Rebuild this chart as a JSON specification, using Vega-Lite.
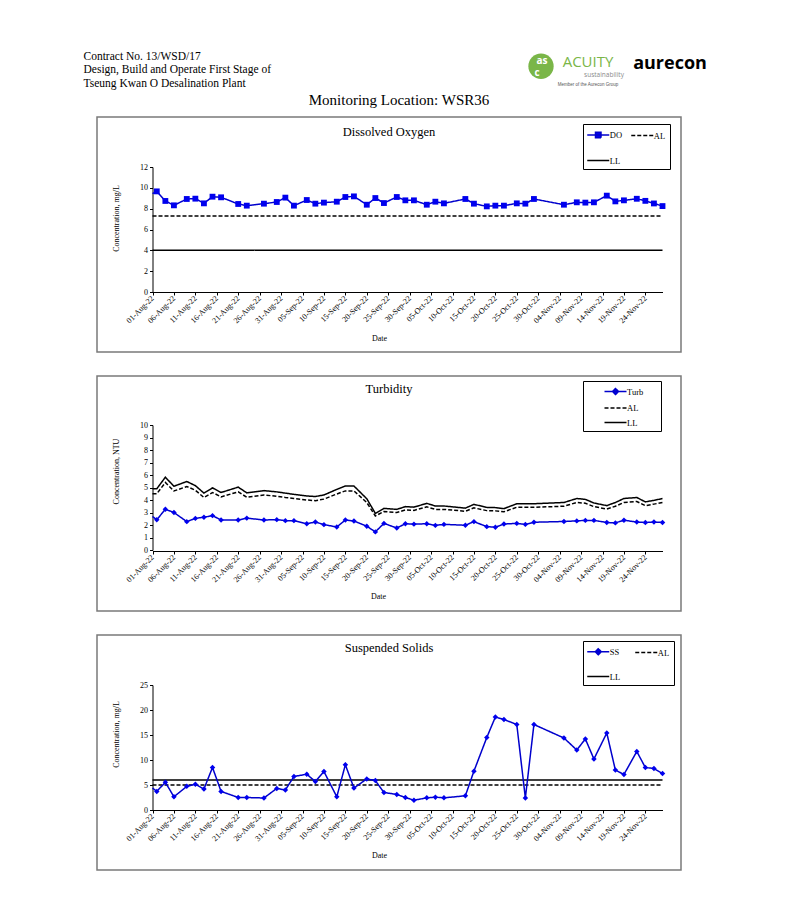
{
  "$schema": "https://vega.github.io/schema/vega-lite/v6.json",
  "background": "white",
  "padding": {"left": 83, "top": 50, "right": 0, "bottom": 0},
  "config": {
    "font": "Liberation Serif",
    "view": {"stroke": null},
    "axis": {"grid": false, "domainColor": "#000", "tickColor": "#000", "labelColor": "#000", "titleColor": "#000", "labelFont": "Liberation Serif", "titleFont": "Liberation Serif", "labelFontSize": 8, "titleFontSize": 8, "titleFontWeight": "normal", "tickSize": 3, "labelFlush": false, "labelOverlap": false, "domainWidth": 1},
    "legend": {"labelFont": "Liberation Serif", "labelFontSize": 8.5, "labelColor": "#000", "strokeColor": "#000", "fillColor": "#fff", "cornerRadius": 0, "symbolStrokeWidth": 1.5, "symbolSize": 121},
    "title": {"font": "Liberation Serif", "fontWeight": "normal", "color": "#000"}
  },
  "datasets": {
    "do": [
      {"date": "2022-07-29", "DO": 9.44}, {"date": "2022-08-02", "DO": 9.66}, {"date": "2022-08-04", "DO": 8.74}, {"date": "2022-08-06", "DO": 8.32},
      {"date": "2022-08-09", "DO": 8.93}, {"date": "2022-08-11", "DO": 8.96}, {"date": "2022-08-13", "DO": 8.51}, {"date": "2022-08-15", "DO": 9.15},
      {"date": "2022-08-17", "DO": 9.09}, {"date": "2022-08-21", "DO": 8.45}, {"date": "2022-08-23", "DO": 8.29}, {"date": "2022-08-27", "DO": 8.48},
      {"date": "2022-08-30", "DO": 8.64}, {"date": "2022-09-01", "DO": 9.06}, {"date": "2022-09-03", "DO": 8.29}, {"date": "2022-09-06", "DO": 8.83},
      {"date": "2022-09-08", "DO": 8.48}, {"date": "2022-09-10", "DO": 8.58}, {"date": "2022-09-13", "DO": 8.67}, {"date": "2022-09-15", "DO": 9.12},
      {"date": "2022-09-17", "DO": 9.18}, {"date": "2022-09-20", "DO": 8.38}, {"date": "2022-09-22", "DO": 9.02}, {"date": "2022-09-24", "DO": 8.54},
      {"date": "2022-09-27", "DO": 9.12}, {"date": "2022-09-29", "DO": 8.8}, {"date": "2022-10-01", "DO": 8.8}, {"date": "2022-10-04", "DO": 8.38},
      {"date": "2022-10-06", "DO": 8.67}, {"date": "2022-10-08", "DO": 8.51}, {"date": "2022-10-13", "DO": 8.93}, {"date": "2022-10-15", "DO": 8.48},
      {"date": "2022-10-18", "DO": 8.22}, {"date": "2022-10-20", "DO": 8.29}, {"date": "2022-10-22", "DO": 8.29}, {"date": "2022-10-25", "DO": 8.51},
      {"date": "2022-10-27", "DO": 8.48}, {"date": "2022-10-29", "DO": 8.93}, {"date": "2022-11-05", "DO": 8.38}, {"date": "2022-11-08", "DO": 8.61},
      {"date": "2022-11-10", "DO": 8.58}, {"date": "2022-11-12", "DO": 8.61}, {"date": "2022-11-15", "DO": 9.25}, {"date": "2022-11-17", "DO": 8.7},
      {"date": "2022-11-19", "DO": 8.8}, {"date": "2022-11-22", "DO": 8.95}, {"date": "2022-11-24", "DO": 8.75}, {"date": "2022-11-26", "DO": 8.5},
      {"date": "2022-11-28", "DO": 8.25}
    ],
    "do_limits": [
      {"date": "2022-08-01", "AL": 7.3, "LL": 4},
      {"date": "2022-11-28", "AL": 7.3, "LL": 4}
    ],
    "turb": [
      {"date": "2022-07-29", "Turb": 2.68, "AL": 4.5, "LL": 4.9},
      {"date": "2022-08-02", "Turb": 2.42, "AL": 4.5, "LL": 4.9},
      {"date": "2022-08-04", "Turb": 3.26, "AL": 5.4, "LL": 5.82},
      {"date": "2022-08-06", "Turb": 3.0, "AL": 4.72, "LL": 5.1},
      {"date": "2022-08-09", "Turb": 2.27, "AL": 5.08, "LL": 5.48},
      {"date": "2022-08-11", "Turb": 2.53, "AL": 4.78, "LL": 5.15},
      {"date": "2022-08-13", "Turb": 2.62, "AL": 4.2, "LL": 4.55},
      {"date": "2022-08-15", "Turb": 2.75, "AL": 4.6, "LL": 4.97},
      {"date": "2022-08-17", "Turb": 2.4, "AL": 4.25, "LL": 4.6},
      {"date": "2022-08-21", "Turb": 2.4, "AL": 4.65, "LL": 5.03},
      {"date": "2022-08-23", "Turb": 2.55, "AL": 4.22, "LL": 4.57},
      {"date": "2022-08-27", "Turb": 2.4, "AL": 4.4, "LL": 4.75},
      {"date": "2022-08-30", "Turb": 2.43, "AL": 4.3, "LL": 4.65},
      {"date": "2022-09-01", "Turb": 2.35, "AL": 4.2, "LL": 4.55},
      {"date": "2022-09-03", "Turb": 2.35, "AL": 4.12, "LL": 4.45},
      {"date": "2022-09-06", "Turb": 2.1, "AL": 4.0, "LL": 4.32},
      {"date": "2022-09-08", "Turb": 2.24, "AL": 3.95, "LL": 4.28},
      {"date": "2022-09-10", "Turb": 2.03, "AL": 4.07, "LL": 4.4},
      {"date": "2022-09-13", "Turb": 1.84, "AL": 4.48, "LL": 4.85},
      {"date": "2022-09-15", "Turb": 2.4, "AL": 4.73, "LL": 5.12},
      {"date": "2022-09-17", "Turb": 2.32, "AL": 4.73, "LL": 5.12},
      {"date": "2022-09-20", "Turb": 1.9, "AL": 3.8, "LL": 4.1},
      {"date": "2022-09-22", "Turb": 1.45, "AL": 2.72, "LL": 2.93},
      {"date": "2022-09-24", "Turb": 2.13, "AL": 3.08, "LL": 3.33},
      {"date": "2022-09-27", "Turb": 1.76, "AL": 3.0, "LL": 3.25},
      {"date": "2022-09-29", "Turb": 2.1, "AL": 3.2, "LL": 3.47},
      {"date": "2022-10-01", "Turb": 2.07, "AL": 3.17, "LL": 3.43},
      {"date": "2022-10-04", "Turb": 2.1, "AL": 3.45, "LL": 3.73},
      {"date": "2022-10-06", "Turb": 1.97, "AL": 3.25, "LL": 3.52},
      {"date": "2022-10-08", "Turb": 2.05, "AL": 3.25, "LL": 3.52},
      {"date": "2022-10-13", "Turb": 1.98, "AL": 3.1, "LL": 3.35},
      {"date": "2022-10-15", "Turb": 2.27, "AL": 3.37, "LL": 3.65},
      {"date": "2022-10-18", "Turb": 1.87, "AL": 3.15, "LL": 3.41},
      {"date": "2022-10-20", "Turb": 1.82, "AL": 3.13, "LL": 3.39},
      {"date": "2022-10-22", "Turb": 2.08, "AL": 3.06, "LL": 3.31},
      {"date": "2022-10-25", "Turb": 2.13, "AL": 3.42, "LL": 3.7},
      {"date": "2022-10-27", "Turb": 2.05, "AL": 3.42, "LL": 3.7},
      {"date": "2022-10-29", "Turb": 2.22, "AL": 3.42, "LL": 3.7},
      {"date": "2022-11-05", "Turb": 2.28, "AL": 3.5, "LL": 3.8},
      {"date": "2022-11-08", "Turb": 2.33, "AL": 3.8, "LL": 4.12},
      {"date": "2022-11-10", "Turb": 2.37, "AL": 3.74, "LL": 4.05},
      {"date": "2022-11-12", "Turb": 2.37, "AL": 3.47, "LL": 3.76},
      {"date": "2022-11-15", "Turb": 2.2, "AL": 3.28, "LL": 3.55},
      {"date": "2022-11-17", "Turb": 2.17, "AL": 3.5, "LL": 3.8},
      {"date": "2022-11-19", "Turb": 2.38, "AL": 3.8, "LL": 4.12},
      {"date": "2022-11-22", "Turb": 2.24, "AL": 3.88, "LL": 4.2},
      {"date": "2022-11-24", "Turb": 2.2, "AL": 3.55, "LL": 3.85},
      {"date": "2022-11-26", "Turb": 2.24, "AL": 3.67, "LL": 3.97},
      {"date": "2022-11-28", "Turb": 2.2, "AL": 3.8, "LL": 4.12}
    ],
    "ss": [
      {"date": "2022-07-29", "SS": 4.39}, {"date": "2022-08-02", "SS": 3.72}, {"date": "2022-08-04", "SS": 5.54}, {"date": "2022-08-06", "SS": 2.64},
      {"date": "2022-08-09", "SS": 4.73}, {"date": "2022-08-11", "SS": 5.14}, {"date": "2022-08-13", "SS": 4.19}, {"date": "2022-08-15", "SS": 8.51},
      {"date": "2022-08-17", "SS": 3.72}, {"date": "2022-08-21", "SS": 2.5}, {"date": "2022-08-23", "SS": 2.5}, {"date": "2022-08-27", "SS": 2.4},
      {"date": "2022-08-30", "SS": 4.32}, {"date": "2022-09-01", "SS": 4.0}, {"date": "2022-09-03", "SS": 6.7}, {"date": "2022-09-06", "SS": 7.16},
      {"date": "2022-09-08", "SS": 5.68}, {"date": "2022-09-10", "SS": 7.7}, {"date": "2022-09-13", "SS": 2.64}, {"date": "2022-09-15", "SS": 9.05},
      {"date": "2022-09-17", "SS": 4.39}, {"date": "2022-09-20", "SS": 6.22}, {"date": "2022-09-22", "SS": 5.88}, {"date": "2022-09-24", "SS": 3.51},
      {"date": "2022-09-27", "SS": 3.11}, {"date": "2022-09-29", "SS": 2.5}, {"date": "2022-10-01", "SS": 1.96}, {"date": "2022-10-04", "SS": 2.43},
      {"date": "2022-10-06", "SS": 2.57}, {"date": "2022-10-08", "SS": 2.43}, {"date": "2022-10-13", "SS": 2.84}, {"date": "2022-10-15", "SS": 7.77},
      {"date": "2022-10-18", "SS": 14.5}, {"date": "2022-10-20", "SS": 18.6}, {"date": "2022-10-22", "SS": 18.1}, {"date": "2022-10-25", "SS": 17.1},
      {"date": "2022-10-27", "SS": 2.4}, {"date": "2022-10-29", "SS": 17.1}, {"date": "2022-11-05", "SS": 14.4}, {"date": "2022-11-08", "SS": 12.0},
      {"date": "2022-11-10", "SS": 14.2}, {"date": "2022-11-12", "SS": 10.2}, {"date": "2022-11-15", "SS": 15.4}, {"date": "2022-11-17", "SS": 8.0},
      {"date": "2022-11-19", "SS": 7.1}, {"date": "2022-11-22", "SS": 11.7}, {"date": "2022-11-24", "SS": 8.5}, {"date": "2022-11-26", "SS": 8.3},
      {"date": "2022-11-28", "SS": 7.3}
    ],
    "ss_limits": [
      {"date": "2022-08-01", "AL": 5, "LL": 6},
      {"date": "2022-11-28", "AL": 5, "LL": 6}
    ]
  },
  "spacing": 2,
  "vconcat": [
    {
      "bounds": "flush",
      "spacing": 444,
      "hconcat": [
        {
          "width": 1, "height": 40.5,
          "data": {"values": [
            {"line": "Contract No. 13/WSD/17", "row": 1},
            {"line": "Design, Build and Operate First Stage of", "row": 2},
            {"line": "Tseung Kwan O Desalination Plant", "row": 3}
          ]},
          "mark": {"type": "text", "align": "left", "baseline": "middle", "fontSize": 11.5, "font": "Liberation Serif", "color": "#000"},
          "encoding": {
            "y": {"field": "row", "type": "ordinal", "axis": null, "scale": {"paddingInner": 0, "paddingOuter": 0}},
            "text": {"field": "line", "type": "nominal"}
          }
        },
        {
          "bounds": "flush",
          "spacing": 0,
          "hconcat": [
            {
              "width": 26, "height": 40.5,
              "layer": [
                {"data": {"values": [{"brand": "Acuity"}]}, "mark": {"type": "point", "shape": "circle", "filled": true, "color": "#7ab648", "opacity": 1, "size": 640, "yOffset": -4}, "encoding": {}},
                {"data": {"values": [{"t": "as"}]}, "mark": {"type": "text", "font": "Open Sans", "fontWeight": "bold", "fontSize": 10, "color": "#fff", "dy": -9, "dx": 1}, "encoding": {"text": {"field": "t"}}},
                {"data": {"values": [{"t": "c"}]}, "mark": {"type": "text", "font": "Open Sans", "fontWeight": "bold", "fontSize": 10, "color": "#fff", "dy": 3, "dx": -4}, "encoding": {"text": {"field": "t"}}}
              ]
            },
            {
              "width": 68, "height": 40.5,
              "layer": [
                {"data": {"values": [{"t": "ACUITY"}]}, "mark": {"type": "text", "font": "Open Sans", "fontSize": 15, "color": "#7ab648", "dy": -8}, "encoding": {"text": {"field": "t"}}},
                {"data": {"values": [{"t": "sustainability"}]}, "mark": {"type": "text", "font": "Open Sans", "fontSize": 6.5, "color": "#8a8a8a", "dy": 4.5, "dx": 16}, "encoding": {"text": {"field": "t"}}},
                {"data": {"values": [{"t": "Member of the Aurecon Group"}]}, "mark": {"type": "text", "font": "Liberation Sans", "fontSize": 4.5, "color": "#555", "dy": 14.5}, "encoding": {"text": {"field": "t"}}}
              ]
            },
            {
              "width": 96, "height": 40.5,
              "data": {"values": [{"t": "aurecon"}]},
              "mark": {"type": "text", "font": "Open Sans", "fontWeight": "bold", "fontSize": 18, "color": "#000", "dy": -6},
              "encoding": {"text": {"field": "t"}}
            }
          ]
        }
      ]
    },
    {
      "spacing": 12,
      "hconcat": [
        {
          "width": 1, "height": 1,
          "view": {"fill": "white", "stroke": null},
          "data": {"values": []},
          "mark": {"type": "point", "opacity": 0},
          "encoding": {}
        },
        {
          "title": {"text": "Monitoring Location: WSR36", "fontSize": 15, "anchor": "middle", "offset": 8, "dx": 10},
          "spacing": 22,
          "resolve": {"scale": {"color": "independent", "strokeDash": "independent", "x": "independent", "y": "independent"}, "legend": {"color": "independent", "strokeDash": "independent"}},
          "vconcat": [
            {
              "width": 584, "height": 235,
              "view": {"stroke": "#7a7a7a", "strokeWidth": 1.5},
              "title": {"text": "Dissolved Oxygen", "frame": "group", "anchor": "middle", "offset": -27, "baseline": "middle", "fontSize": 12.5},
              "encoding": {
                "x": {"field": "date", "type": "temporal",
                  "scale": {"type": "utc", "domain": [{"year": 2022, "month": "aug", "date": 1, "utc": true}, {"year": 2022, "month": "nov", "date": 28, "utc": true}], "range": [55.5, 565.5], "clamp": true},
                  "axis": {"values": [1659312000000, 1659744000000, 1660176000000, 1660608000000, 1661040000000, 1661472000000, 1661904000000, 1662336000000, 1662768000000, 1663200000000, 1663632000000, 1664064000000, 1664496000000, 1664928000000, 1665360000000, 1665792000000, 1666224000000, 1666656000000, 1667088000000, 1667520000000, 1667952000000, 1668384000000, 1668816000000, 1669248000000],
                    "labelExpr": "utcFormat(datum.value, '%d-%b-%y')", "labelAngle": -45, "labelAlign": "right", "labelBaseline": "middle", "labelPadding": 2, "offset": -60,
                    "title": "Date", "titleX": 282, "titleY": 46, "titleBaseline": "middle", "titleAlign": "center", "titleAngle": 0}},
                "y": {"field": "value", "type": "quantitative",
                  "scale": {"domain": [0, 12], "range": [175, 50], "nice": false, "zero": false},
                  "axis": {"values": [0, 2, 4, 6, 8, 10, 12], "offset": -55.5, "labelPadding": 2, "title": "Concentration, mg/L", "titleX": -36, "titleY": 101, "titleAngle": 270, "titleBaseline": "middle", "titleAlign": "center"}}
              },
              "layer": [
                {
                  "data": {"name": "do_limits", "format": {"parse": {"date": "date"}}},
                  "transform": [{"fold": ["AL", "LL"], "as": ["series", "value"]}],
                  "mark": {"type": "line", "strokeWidth": 1.5},
                  "encoding": {
                    "color": {"field": "series", "type": "nominal", "scale": {"domain": ["DO", "AL", "LL"], "range": ["#0000cc", "#000000", "#000000"]},
                      "legend": {"orient": "none", "legendX": 486, "legendY": 7, "title": null, "direction": "horizontal", "columns": 2, "columnPadding": 5, "rowPadding": 13, "padding": 4, "symbolOffset": 4.75, "labelOffset": 5,
                        "symbolType": {"expr": "datum.value === 'DO' ? 'M-2,0H2M-0.5,-0.5H0.5V0.5H-0.5Z' : 'M-2,0H2'"},
                        "symbolFillColor": {"expr": "datum.value === 'DO' ? '#0000ee' : 'transparent'"}}},
                    "strokeDash": {"field": "series", "type": "nominal", "scale": {"domain": ["DO", "AL", "LL"], "range": [[1, 0], [4, 2], [1, 0]]}}
                  }
                },
                {
                  "data": {"name": "do", "format": {"parse": {"date": "date"}}},
                  "transform": [{"fold": ["DO"], "as": ["series", "value"]}],
                  "mark": {"type": "line", "strokeWidth": 1.5},
                  "encoding": {
                    "color": {"field": "series", "type": "nominal", "scale": {"domain": ["DO", "AL", "LL"], "range": ["#0000cc", "#000000", "#000000"]}},
                    "strokeDash": {"field": "series", "type": "nominal", "scale": {"domain": ["DO", "AL", "LL"], "range": [[1, 0], [4, 2], [1, 0]]}}
                  }
                },
                {
                  "data": {"name": "do", "format": {"parse": {"date": "date"}}},
                  "transform": [{"filter": "time(datum.date) >= utc(2022, 7, 1)"}, {"fold": ["DO"], "as": ["series", "value"]}],
                  "mark": {"type": "point", "shape": "square", "filled": true, "size": 34, "color": "#0000ee", "opacity": 1},
                  "encoding": {}
                }
              ]
            },
            {
              "width": 584, "height": 235,
              "view": {"stroke": "#7a7a7a", "strokeWidth": 1.5},
              "title": {"text": "Turbidity", "frame": "group", "anchor": "middle", "offset": -25.5, "baseline": "middle", "fontSize": 12.5},
              "encoding": {
                "x": {"field": "date", "type": "temporal",
                  "scale": {"type": "utc", "domain": [{"year": 2022, "month": "aug", "date": 1, "utc": true}, {"year": 2022, "month": "nov", "date": 28, "utc": true}], "range": [55.5, 565.5], "clamp": true},
                  "axis": {"values": [1659312000000, 1659744000000, 1660176000000, 1660608000000, 1661040000000, 1661472000000, 1661904000000, 1662336000000, 1662768000000, 1663200000000, 1663632000000, 1664064000000, 1664496000000, 1664928000000, 1665360000000, 1665792000000, 1666224000000, 1666656000000, 1667088000000, 1667520000000, 1667952000000, 1668384000000, 1668816000000, 1669248000000],
                    "labelExpr": "utcFormat(datum.value, '%d-%b-%y')", "labelAngle": -45, "labelAlign": "right", "labelBaseline": "middle", "labelPadding": 2, "offset": -60,
                    "title": "Date", "titleX": 281, "titleY": 45, "titleBaseline": "middle", "titleAlign": "center", "titleAngle": 0}},
                "y": {"field": "value", "type": "quantitative",
                  "scale": {"domain": [0, 10], "range": [174, 49], "nice": false, "zero": false},
                  "axis": {"values": [0, 1, 2, 3, 4, 5, 6, 7, 8, 9, 10], "offset": -55.5, "labelPadding": 2, "title": "Concentration, NTU", "titleX": -36, "titleY": 95, "titleAngle": 270, "titleBaseline": "middle", "titleAlign": "center"}}
              },
              "layer": [
                {
                  "data": {"name": "turb", "format": {"parse": {"date": "date"}}},
                  "transform": [{"fold": ["Turb", "AL", "LL"], "as": ["series", "value"]}],
                  "mark": {"type": "line", "strokeWidth": 1.5},
                  "encoding": {
                    "color": {"field": "series", "type": "nominal", "scale": {"domain": ["Turb", "AL", "LL"], "range": ["#0000cc", "#000000", "#000000"]},
                      "legend": {"orient": "none", "legendX": 486, "legendY": 5, "title": "\u00a0", "titleOrient": "right", "titlePadding": 14, "titleFontSize": 8, "columns": 1, "direction": "vertical", "rowPadding": 3.5, "padding": 4, "symbolOffset": 22, "labelOffset": 5,
                        "symbolType": {"expr": "datum.value === 'Turb' ? 'M-2,0H2M0,-0.55L0.55,0L0,0.55L-0.55,0Z' : 'M-2,0H2'"},
                        "symbolFillColor": {"expr": "datum.value === 'Turb' ? '#0000ee' : 'transparent'"}}},
                    "strokeDash": {"field": "series", "type": "nominal", "scale": {"domain": ["Turb", "AL", "LL"], "range": [[1, 0], [4, 2], [1, 0]]}}
                  }
                },
                {
                  "data": {"name": "turb", "format": {"parse": {"date": "date"}}},
                  "transform": [{"filter": "time(datum.date) >= utc(2022, 7, 1)"}, {"fold": ["Turb"], "as": ["series", "value"]}],
                  "mark": {"type": "point", "shape": "diamond", "filled": true, "size": 30, "color": "#0000ee", "opacity": 1},
                  "encoding": {}
                }
              ]
            },
            {
              "width": 584, "height": 235,
              "view": {"stroke": "#7a7a7a", "strokeWidth": 1.5},
              "title": {"text": "Suspended Solids", "frame": "group", "anchor": "middle", "offset": -25.7, "baseline": "middle", "fontSize": 12.5},
              "encoding": {
                "x": {"field": "date", "type": "temporal",
                  "scale": {"type": "utc", "domain": [{"year": 2022, "month": "aug", "date": 1, "utc": true}, {"year": 2022, "month": "nov", "date": 28, "utc": true}], "range": [55.5, 565.5], "clamp": true},
                  "axis": {"values": [1659312000000, 1659744000000, 1660176000000, 1660608000000, 1661040000000, 1661472000000, 1661904000000, 1662336000000, 1662768000000, 1663200000000, 1663632000000, 1664064000000, 1664496000000, 1664928000000, 1665360000000, 1665792000000, 1666224000000, 1666656000000, 1667088000000, 1667520000000, 1667952000000, 1668384000000, 1668816000000, 1669248000000],
                    "labelExpr": "utcFormat(datum.value, '%d-%b-%y')", "labelAngle": -45, "labelAlign": "right", "labelBaseline": "middle", "labelPadding": 2, "offset": -60,
                    "title": "Date", "titleX": 282, "titleY": 45, "titleBaseline": "middle", "titleAlign": "center", "titleAngle": 0}},
                "y": {"field": "value", "type": "quantitative",
                  "scale": {"domain": [0, 25], "range": [175, 50], "nice": false, "zero": false},
                  "axis": {"values": [0, 5, 10, 15, 20, 25], "offset": -55.5, "labelPadding": 2, "title": "Concentration, mg/L", "titleX": -36, "titleY": 99, "titleAngle": 270, "titleBaseline": "middle", "titleAlign": "center"}}
              },
              "layer": [
                {
                  "data": {"name": "ss_limits", "format": {"parse": {"date": "date"}}},
                  "transform": [{"fold": ["AL", "LL"], "as": ["series", "value"]}],
                  "mark": {"type": "line", "strokeWidth": 1.5},
                  "encoding": {
                    "color": {"field": "series", "type": "nominal", "scale": {"domain": ["SS", "AL", "LL"], "range": ["#0000cc", "#000000", "#000000"]},
                      "legend": {"orient": "none", "legendX": 486, "legendY": 6, "title": null, "direction": "horizontal", "columns": 2, "columnPadding": 11, "rowPadding": 12, "padding": 4, "symbolOffset": 4.75, "labelOffset": 5,
                        "symbolType": {"expr": "datum.value === 'SS' ? 'M-2,0H2M0,-0.55L0.55,0L0,0.55L-0.55,0Z' : 'M-2,0H2'"},
                        "symbolFillColor": {"expr": "datum.value === 'SS' ? '#0000ee' : 'transparent'"}}},
                    "strokeDash": {"field": "series", "type": "nominal", "scale": {"domain": ["SS", "AL", "LL"], "range": [[1, 0], [4, 2], [1, 0]]}}
                  }
                },
                {
                  "data": {"name": "ss", "format": {"parse": {"date": "date"}}},
                  "transform": [{"fold": ["SS"], "as": ["series", "value"]}],
                  "mark": {"type": "line", "strokeWidth": 1.5},
                  "encoding": {
                    "color": {"field": "series", "type": "nominal", "scale": {"domain": ["SS", "AL", "LL"], "range": ["#0000cc", "#000000", "#000000"]}},
                    "strokeDash": {"field": "series", "type": "nominal", "scale": {"domain": ["SS", "AL", "LL"], "range": [[1, 0], [4, 2], [1, 0]]}}
                  }
                },
                {
                  "data": {"name": "ss", "format": {"parse": {"date": "date"}}},
                  "transform": [{"filter": "time(datum.date) >= utc(2022, 7, 1)"}, {"fold": ["SS"], "as": ["series", "value"]}],
                  "mark": {"type": "point", "shape": "diamond", "filled": true, "size": 30, "color": "#0000ee", "opacity": 1},
                  "encoding": {}
                }
              ]
            }
          ]
        }
      ]
    }
  ]
}
